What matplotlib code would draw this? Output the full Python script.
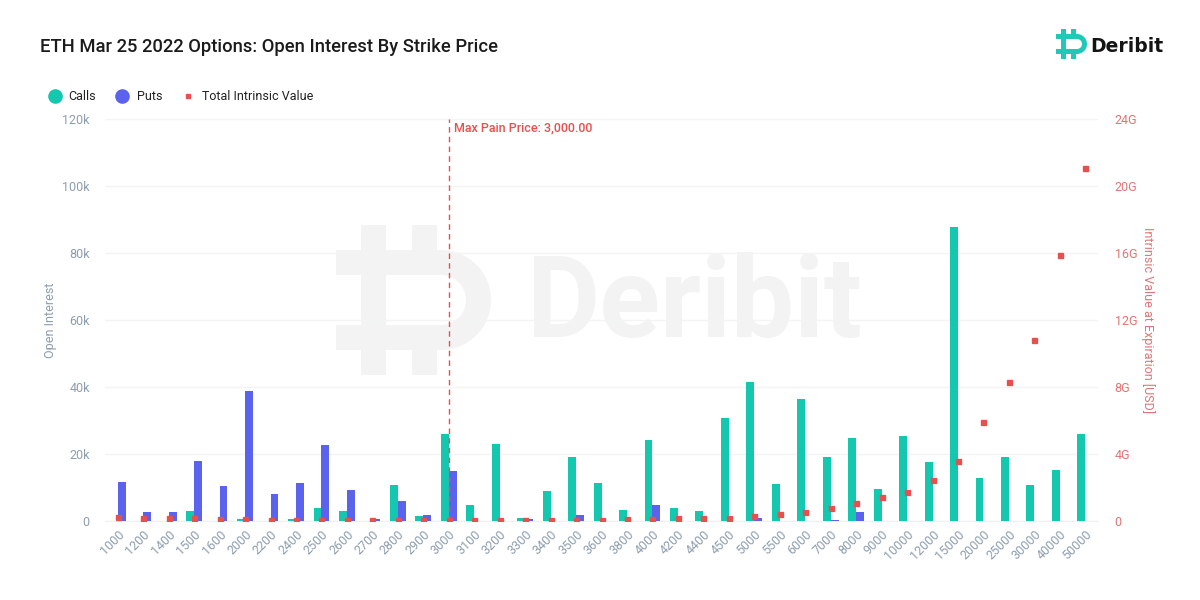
import numpy as np
import matplotlib.pyplot as plt
from matplotlib.patches import Rectangle, Wedge

# -----------------------------
# Data
# -----------------------------
strikes = ["1000", "1200", "1400", "1500", "1600", "2000", "2200", "2400", "2500",
           "2600", "2700", "2800", "2900", "3000", "3100", "3200", "3300", "3400",
           "3500", "3600", "3800", "4000", "4200", "4400", "4500", "5000", "5500",
           "6000", "7000", "8000", "9000", "10000", "12000", "15000", "20000",
           "25000", "30000", "40000", "50000"]

calls = [0, 0, 0, 3.0, 0, 0.6, 0, 0.7, 3.9,
         3.0, 0, 10.8, 1.6, 26.0, 4.8, 23.0, 0.9, 9.0,
         19.1, 11.3, 3.3, 24.2, 3.9, 3.0, 30.7, 41.5, 11.0,
         36.4, 19.1, 24.8, 9.6, 25.4, 17.6, 87.8, 12.8,
         19.1, 10.7, 15.2, 26.0]  # thousands

puts = [11.7, 2.7, 2.7, 17.9, 10.4, 38.8, 8.1, 11.3, 22.7,
        9.3, 0.6, 6.0, 1.8, 15.0, 0, 0, 0.7, 0,
        1.8, 0, 0, 4.8, 0, 0, 0, 0.9, 0,
        0, 0.3, 2.7, 0, 0, 0, 0, 0,
        0, 0, 0, 0]  # thousands

intrinsic = [0.24, 0.18, 0.18, 0.18, 0.12, 0.12, 0.06, 0.06, 0.05,
             0.05, 0.05, 0.04, 0.04, 0.03, 0.03, 0.03, 0.03, 0.03,
             0.04, 0.06, 0.12, 0.12, 0.18, 0.18, 0.2, 0.3, 0.42,
             0.54, 0.78, 1.07, 1.43, 1.73, 2.45, 3.58, 5.9,
             8.3, 10.8, 15.9, 21.1]  # billions USD

max_pain = "3000"

# -----------------------------
# Style
# -----------------------------
plt.rcParams['font.family'] = ['Roboto', 'DejaVu Sans']
c_calls = "#14C8AF"
c_puts = "#5A62EE"
c_red = "#E8504F"
c_red_txt = "#E27474"
c_tick = "#8D9DAE"
fs = 9


def draw_icon(a, x0, y0, s, color, z=0):
    # Deribit style "D" mark, drawn in pixel units (y pointing down)
    rects = [(25, 0, 25, 25), (76, 0, 25, 25),
             (0, 25, 105, 25), (0, 100, 105, 25),
             (25, 25, 25, 100),
             (25, 125, 25, 25), (76, 125, 25, 25)]
    for rx, ry, rw, rh in rects:
        a.add_patch(Rectangle((x0 + rx * s, y0 + ry * s), rw * s, rh * s,
                              color=color, lw=0, zorder=z))
    a.add_patch(Wedge((x0 + 105 * s, y0 + 75 * s), 50 * s, -90, 90, width=25 * s,
                      color=color, lw=0, zorder=z))


fig = plt.figure(figsize=(12, 6), dpi=100)

# background layer in pixel coordinates (watermark + logo)
bg = fig.add_axes([0, 0, 1, 1], zorder=0)
bg.set_xlim(0, 1200)
bg.set_ylim(600, 0)
bg.axis("off")
draw_icon(bg, 336, 225, 1.0, "#F3F3F3")
bg.text(527, 337, "Deribit", fontsize=81, fontweight="bold", color="#F3F3F3",
        ha="left", va="baseline")
draw_icon(bg, 1056, 29, 0.2, "#20C8B7")
bg.text(1090, 52, "Deribit", fontsize=13.5, fontweight="bold", color="#141414",
        ha="left", va="baseline", family="DejaVu Sans")

ax = fig.add_axes([0.0875, 0.1317, 0.8275, 0.67], zorder=1)
ax.patch.set_alpha(0)
ax2 = ax.twinx()

x = np.arange(len(strikes))
w = 0.31

ax.bar(x - w / 2, calls, width=w, color=c_calls, zorder=3)
ax.bar(x + w / 2, puts, width=w, color=c_puts, zorder=3)
ax2.plot(x, intrinsic, ls="none", marker="s", markersize=3.6, color=c_red, zorder=4)

ax.set_xlim(-0.5, len(strikes) - 0.5)
ax.set_ylim(0, 120)
ax2.set_ylim(0, 24)

ax.set_yticks(np.arange(0, 121, 20))
ax.set_yticklabels(["0"] + [f"{v}k" for v in range(20, 121, 20)])
ax2.set_yticks(np.arange(0, 25, 4))
ax2.set_yticklabels(["0"] + [f"{v}G" for v in range(4, 25, 4)])

ax.set_xticks(x)
ax.set_xticklabels(strikes, rotation=45, ha="right", rotation_mode="anchor")

ax.grid(axis="y", color="#F2F4F6", linewidth=1, zorder=0)
ax.set_axisbelow(True)

for a in (ax, ax2):
    for s in a.spines.values():
        s.set_visible(False)
ax.spines["bottom"].set_visible(True)
ax.spines["bottom"].set_color("#EEF1F4")

ax.tick_params(axis="x", length=0, colors=c_tick, labelsize=fs, pad=5)
ax.tick_params(axis="y", length=0, colors=c_tick, labelsize=fs, pad=11)
ax2.tick_params(axis="y", length=0, colors=c_red_txt, labelsize=fs, pad=12)

ax.set_ylabel("Open Interest", color=c_tick, fontsize=fs, labelpad=4)
ax2.set_ylabel("Intrinsic Value at Expiration [USD]", color=c_red_txt, fontsize=fs,
               rotation=270, labelpad=13)

# max pain line
mp = strikes.index(max_pain)
ax.axvline(mp, color=c_red, linestyle=(0, (4, 3)), linewidth=1, zorder=5)
ax.text(mp + 0.2, 119.3, "Max Pain Price: 3,000.00", color=c_red, fontsize=fs,
        ha="left", va="top", fontweight="medium")

# title
fig.text(0.033, 0.922, "ETH Mar 25 2022 Options: Open Interest By Strike Price",
         fontsize=13.2, fontweight="medium", color="#1B1B1B", ha="left", va="center")

# legend
ly = 0.84
fig.lines.append(plt.Line2D([0.046], [ly], transform=fig.transFigure, marker="o",
                            markersize=9.5, color=c_calls, ls="none"))
fig.text(0.057, ly, "Calls", fontsize=fs, color="#222222", va="center")
fig.lines.append(plt.Line2D([0.102], [ly], transform=fig.transFigure, marker="o",
                            markersize=9.5, color=c_puts, ls="none"))
fig.text(0.114, ly, "Puts", fontsize=fs, color="#222222", va="center")
fig.lines.append(plt.Line2D([0.157], [ly], transform=fig.transFigure, marker="s",
                            markersize=3.2, color=c_red, ls="none"))
fig.text(0.168, ly, "Total Intrinsic Value", fontsize=fs, color="#222222", va="center")

fig.savefig("out.png", dpi=100, facecolor="white")
